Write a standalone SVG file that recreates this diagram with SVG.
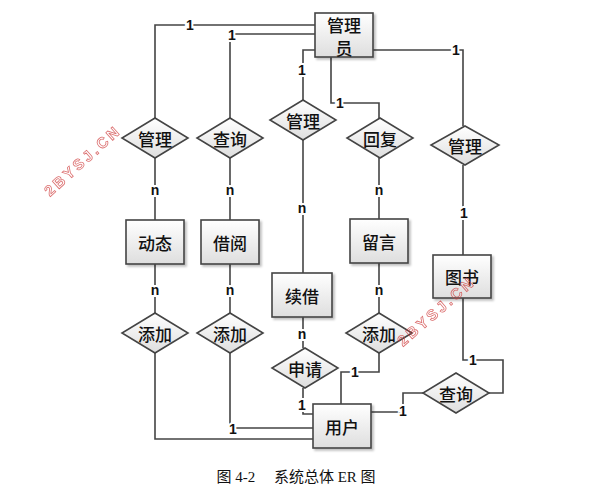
<svg xmlns="http://www.w3.org/2000/svg" width="615" height="492" viewBox="0 0 615 492">
<defs>
<linearGradient id="g" x1="0" y1="0" x2="0" y2="1">
<stop offset="0" stop-color="#ffffff"/>
<stop offset="1" stop-color="#dedede"/>
</linearGradient>
<filter id="sh" x="-20%" y="-20%" width="150%" height="150%">
<feDropShadow dx="2" dy="2" stdDeviation="1.2" flood-color="#000" flood-opacity="0.25"/>
</filter>
</defs>
<style>
.box{fill:url(#g);stroke:#444;stroke-width:1.6;filter:url(#sh)}
.dia{fill:url(#g);stroke:#444;stroke-width:1.6}
.t{font-family:"Noto Sans CJK SC",sans-serif;font-size:17px;font-weight:500;fill:#111;text-anchor:middle;dominant-baseline:central}
.c{fill:none;stroke:#444;stroke-width:1.6}
.l{font-family:"Liberation Sans",Arial,sans-serif;font-size:14px;font-weight:bold;fill:#111;text-anchor:middle;dominant-baseline:central;stroke:#fff;stroke-width:4;paint-order:stroke}
.wm{font-family:"Liberation Sans",Arial,sans-serif;font-size:15px;font-weight:bold;fill:none;stroke:#d04040;stroke-width:0.8;opacity:0.75;letter-spacing:3px}
.cap{font-family:"Liberation Serif","Noto Sans CJK SC",serif;font-size:15px;fill:#111;text-anchor:middle}
</style>
<rect width="615" height="492" fill="#fff"/>
<g id="connectors">
<path class="c" d="M315,25 H155 V118"/>
<path class="c" d="M315,34 H230 V118"/>
<path class="c" d="M315,50 H303 V100"/>
<path class="c" d="M331,57 V103 H379 V118"/>
<path class="c" d="M373,50 H463 V126"/>
<path class="c" d="M155,158 V220"/>
<path class="c" d="M230,158 V220"/>
<path class="c" d="M303,140 V273"/>
<path class="c" d="M379,158 V219"/>
<path class="c" d="M463,165 V255"/>
<path class="c" d="M155,264 V313"/>
<path class="c" d="M230,264 V313"/>
<path class="c" d="M379,263 V313"/>
<path class="c" d="M303,317 V348"/>
<path class="c" d="M303,388 V414 H313"/>
<path class="c" d="M379,353 V372 H341 V404"/>
<path class="c" d="M155,353 V439 H313"/>
<path class="c" d="M230,353 V428 H313"/>
<path class="c" d="M371,412 H403 V393 H423"/>
<path class="c" d="M463,298 V360 H503 V393 H489"/>
</g>
<g id="labels">
<text class="l" x="190" y="25">1</text>
<text class="l" x="232" y="35">1</text>
<text class="l" x="302" y="70">1</text>
<text class="l" x="340" y="103">1</text>
<text class="l" x="456" y="50">1</text>
<text class="l" x="464" y="213">1</text>
<text class="l" x="355" y="372">1</text>
<text class="l" x="302" y="405">1</text>
<text class="l" x="233" y="429">1</text>
<text class="l" x="403" y="411">1</text>
<text class="l" x="473" y="360">1</text>
<text class="l" x="155" y="190">n</text>
<text class="l" x="230" y="190">n</text>
<text class="l" x="379" y="190">n</text>
<text class="l" x="302" y="208">n</text>
<text class="l" x="155" y="290">n</text>
<text class="l" x="230" y="290">n</text>
<text class="l" x="379" y="290">n</text>
<text class="l" x="302" y="334">n</text>
</g>
<g id="admin"><rect class="box" x="315" y="13" width="58" height="44"/><text class="t" x="344" y="24">管理</text><text class="t" x="344" y="47">员</text></g>
<g id="rel-manage1"><polygon class="dia" points="155,118 188,138 155,158 122,138"/><text class="t" x="155" y="138">管理</text></g>
<g id="rel-query1"><polygon class="dia" points="230,118 263,138 230,158 197,138"/><text class="t" x="230" y="138">查询</text></g>
<g id="rel-manage2"><polygon class="dia" points="303,100 336,120 303,140 270,120"/><text class="t" x="303" y="120">管理</text></g>
<g id="rel-reply"><polygon class="dia" points="380,118 413,138 380,158 347,138"/><text class="t" x="380" y="138">回复</text></g>
<g id="rel-manage3"><polygon class="dia" points="465,126 499,145 465,165 431,145"/><text class="t" x="465" y="145">管理</text></g>
<g id="news"><rect class="box" x="126" y="220" width="58" height="44"/><text class="t" x="155" y="242">动态</text></g>
<g id="borrow"><rect class="box" x="201" y="220" width="58" height="44"/><text class="t" x="230" y="242">借阅</text></g>
<g id="renew"><rect class="box" x="272" y="273" width="60" height="44"/><text class="t" x="302" y="295">续借</text></g>
<g id="message"><rect class="box" x="350" y="219" width="58" height="44"/><text class="t" x="379" y="241">留言</text></g>
<g id="book"><rect class="box" x="433" y="255" width="58" height="43"/><text class="t" x="462" y="276">图书</text></g>
<g id="rel-add1"><polygon class="dia" points="155,313 188,333 155,353 122,333"/><text class="t" x="155" y="333">添加</text></g>
<g id="rel-add2"><polygon class="dia" points="230,313 263,333 230,353 197,333"/><text class="t" x="230" y="333">添加</text></g>
<g id="rel-add3"><polygon class="dia" points="379,313 412,333 379,353 346,333"/><text class="t" x="379" y="333">添加</text></g>
<g id="rel-apply"><polygon class="dia" points="305,348 338,368 305,388 272,368"/><text class="t" x="305" y="368">申请</text></g>
<g id="rel-query2"><polygon class="dia" points="456,373 489,393 456,413 423,393"/><text class="t" x="456" y="393">查询</text></g>
<g id="user"><rect class="box" x="313" y="404" width="58" height="44"/><text class="t" x="342" y="426">用户</text></g>
<text class="wm" transform="translate(50,197) rotate(-42)">2BYSJ.CN</text>
<text class="wm" transform="translate(403,347) rotate(-41)">2BYSJ.CN</text>
<text class="cap" x="296" y="482">图 4-2　 系统总体 ER 图</text>
</svg>
